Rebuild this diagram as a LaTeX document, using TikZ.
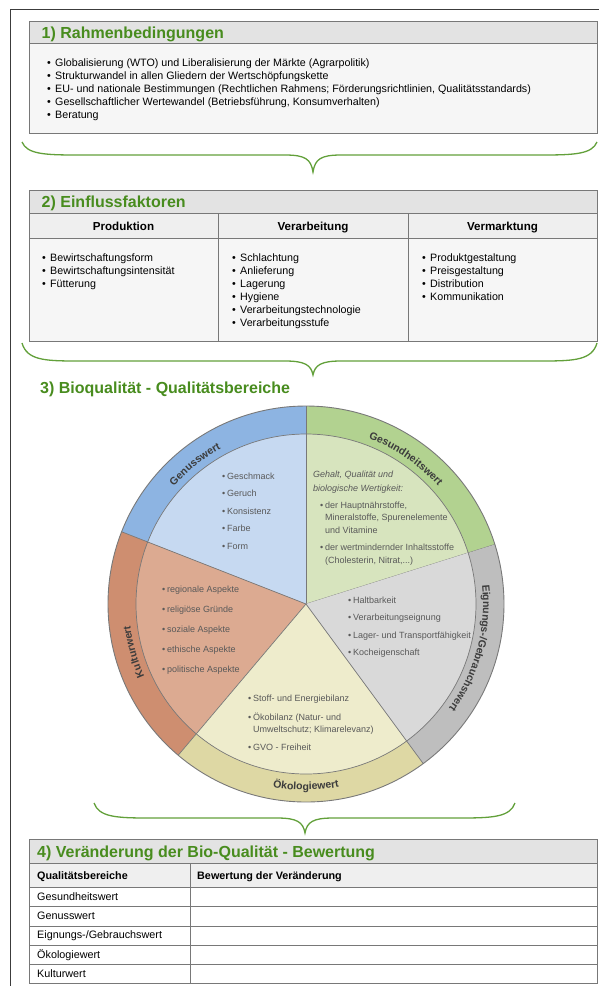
\documentclass[tikz,border=0pt]{standalone}
\usepackage{fontspec}
\setmainfont{Liberation Sans}
\usetikzlibrary{decorations.text}

\definecolor{titlegreen}{RGB}{72,140,30}
\definecolor{bracegreen}{RGB}{98,160,58}
\definecolor{framegray}{RGB}{60,60,60}
\definecolor{linegray}{RGB}{120,120,120}
\definecolor{headgray}{RGB}{227,227,227}
\definecolor{subgray}{RGB}{239,239,239}
\definecolor{bodygray}{RGB}{246,246,246}
\definecolor{piegray}{RGB}{89,89,89}
\definecolor{labelgray}{RGB}{60,60,60}
% ring and inner colours of the pie
\definecolor{genR}{RGB}{141,180,226}
\definecolor{genI}{RGB}{198,217,241}
\definecolor{gesR}{RGB}{178,210,144}
\definecolor{gesI}{RGB}{215,228,190}
\definecolor{eigR}{RGB}{190,190,190}
\definecolor{eigI}{RGB}{217,217,217}
\definecolor{oekR}{RGB}{222,216,164}
\definecolor{oekI}{RGB}{238,236,204}
\definecolor{kulR}{RGB}{206,142,112}
\definecolor{kulI}{RGB}{220,170,145}

\newcommand{\bul}{\makebox[8pt][l]{\textbullet}}
\newcommand{\pbul}{\makebox[5pt][l]{\textbullet}}
% curly brace: x1, x2, xmid, yend, yflat, ytip
\newcommand{\gbrace}[6]{%
  \draw[brace] (#1,-#4) .. controls (#1+5,-#5+1) and (#1+22,-#5) .. (#1+55,-#5)
    -- (#3-28,-#5) .. controls (#3-8,-#5) and (#3-2,-#5-4) .. (#3,-#6)
    .. controls (#3+2,-#5-4) and (#3+8,-#5) .. (#3+28,-#5)
    -- (#2-55,-#5) .. controls (#2-22,-#5) and (#2-5,-#5+1) .. (#2,-#4);}

\tikzset{
  boxline/.style={draw=linegray, line width=0.8pt},
  title/.style={anchor=base west, inner sep=0, text=titlegreen,
    font=\fontsize{16}{16}\selectfont\bfseries},
  item/.style={anchor=base west, inner sep=0, font=\fontsize{10.7}{13}\selectfont},
  colhead/.style={anchor=base, inner sep=0, font=\fontsize{11.6}{13}\selectfont\bfseries},
  pieitem/.style={anchor=base west, inner sep=0, text=piegray,
    font=\fontsize{9}{11}\selectfont},
  brace/.style={draw=bracegreen, line width=1.3pt},
  ringlabel/.style={decorate, decoration={text along path, text align=center,
    text color=labelgray, text={|\fontsize{10.5}{12}\selectfont\bfseries|#1}}}
}

\begin{document}
\begin{tikzpicture}[x=1pt, y=1pt]
  \useasboundingbox (0,0) rectangle (599,-986);
  % Frame
  \draw[framegray, line width=1.2pt] (10.5,-986) -- (10.5,-9.5) -- (599,-9.5);

  % 1) Rahmenbedingungen
  \fill[headgray] (29,-21) rectangle (597,-43);
  \fill[bodygray] (29,-43) rectangle (597,-133);
  \draw[boxline] (29,-21) rectangle (597,-133);
  \draw[boxline] (29,-43) -- (597,-43);
  \node[title] (t1) at (41.5,-38) {1) Rahmenbedingungen};
  \foreach \t [count=\i] in {Globalisierung (WTO) und Liberalisierung der Märkte (Agrarpolitik),
      Strukturwandel in allen Gliedern der Wertschöpfungskette,
      {EU- und nationale Bestimmungen (Rechtlichen Rahmens; Förderungsrichtlinien, Qualitätsstandards)},
      {Gesellschaftlicher Wertewandel (Betriebsführung, Konsumverhalten)},
      Beratung}
    \node[item] (r\i) at (47,{-66.8-13*(\i-1)}) {\bul\t};
  \gbrace{22}{597}{313}{142}{155}{172}

  % 2) Einflussfaktoren
  \fill[headgray] (29,-190) rectangle (597,-213);
  \fill[subgray] (29,-213) rectangle (597,-238);
  \fill[bodygray] (29,-238) rectangle (597,-341);
  \draw[boxline] (29,-190) rectangle (597,-341);
  \draw[boxline] (29,-213) -- (597,-213) (29,-238) -- (597,-238);
  \draw[boxline] (218,-213) -- (218,-341) (408,-213) -- (408,-341);
  \node[title] (t2) at (41.5,-207.5) {2) Einflussfaktoren};
  \node[colhead] (hp) at (123.5,-230) {Produktion};
  \node[colhead] (hv) at (313,-230) {Verarbeitung};
  \node[colhead] (hm) at (502.5,-230) {Vermarktung};
  \foreach \t [count=\i] in {Bewirtschaftungsform, Bewirtschaftungsintensität, Fütterung}
    \node[item] (p\i) at (42,{-261.3-13*(\i-1)}) {\bul\t};
  \foreach \t [count=\i] in {Schlachtung, Anlieferung, Lagerung, Hygiene,
      Verarbeitungstechnologie, Verarbeitungsstufe}
    \node[item] (v\i) at (232,{-261.3-13*(\i-1)}) {\bul\t};
  \foreach \t [count=\i] in {Produktgestaltung, Preisgestaltung, Distribution, Kommunikation}
    \node[item] (m\i) at (422,{-261.3-13*(\i-1)}) {\bul\t};
  \gbrace{22}{597}{313}{343}{361}{375}

  % 3) Bioqualitaet
  \node[title] (t3) at (40,-393) {3) Bioqualität - Qualitätsbereiche};
  \begin{scope}[shift={(306,-604)}]
    % Wedges: ring and inner part
    \foreach \a/\b/\ring/\inner in {17.5/90/gesR/gesI, 90/158.6/genR/genI,
        158.6/229.8/kulR/kulI, 229.8/306.3/oekR/oekI, -53.7/17.5/eigR/eigI} {
      \fill[\ring] (0,0) -- (\a:198) arc[start angle=\a, end angle=\b, radius=198] -- cycle;
      \fill[\inner] (0,0) -- (\a:170) arc[start angle=\a, end angle=\b, radius=170] -- cycle;
      \draw[linegray, line width=0.7pt] (0,0) -- (\a:198);
    }
    \draw[linegray, line width=0.7pt] (0,0) circle (170);
    \draw[linegray, line width=0.9pt] (0,0) circle (198);
    % Ring labels
    \path[ringlabel=Genusswert] (153.5:177) arc[start angle=153.5, end angle=103.5, radius=177];
    \path[ringlabel=Gesundheitswert] (88:177) arc[start angle=88, end angle=23, radius=177];
    \path[ringlabel=Eignungs-/Gebrauchswert] (23:177) arc[start angle=23, end angle=-53, radius=177];
    \path[ringlabel=Kulturwert] (225:177) arc[start angle=225, end angle=166, radius=177];
    \path[ringlabel=Ökologiewert] (245:186) arc[start angle=245, end angle=295, radius=186];
  \end{scope}
  % Genusswert
  \foreach \t [count=\i] in {Geschmack, Geruch, Konsistenz, Farbe, Form}
    \node[pieitem] (g\i) at (222,{-479.3-17.5*(\i-1)}) {\pbul\t};
  % Gesundheitswert
  \node[pieitem, font=\fontsize{9}{11}\selectfont\itshape] (h1) at (313,-477) {Gehalt, Qualität und};
  \node[pieitem, font=\fontsize{9}{11}\selectfont\itshape] (h2) at (313,-491) {biologische Wertigkeit:};
  \node[pieitem] (h3) at (320,-508) {\pbul der Hauptnährstoffe,};
  \node[pieitem] (h4) at (325,-520.5) {Mineralstoffe, Spurenelemente};
  \node[pieitem] (h5) at (325,-533.5) {und Vitamine};
  \node[pieitem] (h6) at (320,-550) {\pbul der wertmindernder Inhaltsstoffe};
  \node[pieitem] (h7) at (325,-563) {(Cholesterin, Nitrat,...)};
  % Eignungs-/Gebrauchswert
  \foreach \t [count=\i] in {Haltbarkeit, Verarbeitungseignung,
      Lager- und Transportfähigkeit, Kocheigenschaft}
    \node[pieitem] (e\i) at (348,{-603.2-17.5*(\i-1)}) {\pbul\t};
  % Kulturwert
  \foreach \t [count=\i] in {regionale Aspekte, religiöse Gründe, soziale Aspekte,
      ethische Aspekte, politische Aspekte}
    \node[pieitem] (k\i) at (162,{-592.2-20*(\i-1)}) {\pbul\t};
  % Oekologiewert
  \node[pieitem] (o1) at (248,-701.2) {\pbul Stoff- und Energiebilanz};
  \node[pieitem] (o2) at (248,-720.2) {\pbul Ökobilanz (Natur- und};
  \node[pieitem] (o3) at (253,-732.5) {Umweltschutz; Klimarelevanz)};
  \node[pieitem] (o4) at (248,-750.2) {\pbul GVO - Freiheit};
  \gbrace{94}{515}{305}{803}{818}{833}

  % 4) Bewertung
  \fill[headgray] (29,-839) rectangle (597,-863);
  \fill[subgray] (29,-863) rectangle (597,-887);
  \fill[white] (29,-887) rectangle (597,-983);
  \draw[boxline] (29,-839) rectangle (597,-983);
  \foreach \y in {863,887,906,926,945,964}
    \draw[boxline] (29,-\y) -- (597,-\y);
  \draw[boxline] (190,-863) -- (190,-983);
  \node[title] (t4) at (37,-857) {4) Veränderung der Bio-Qualität - Bewertung};
  \node[colhead, anchor=base west, font=\fontsize{10.8}{13}\selectfont\bfseries] (hq) at (37,-879) {Qualitätsbereiche};
  \node[colhead, anchor=base west, font=\fontsize{10.8}{13}\selectfont\bfseries] (hb) at (197,-879) {Bewertung der Veränderung};
  \foreach \t [count=\i] in {Gesundheitswert, Genusswert, Eignungs-/Gebrauchswert,
      Ökologiewert, Kulturwert}
    \node[item, font=\fontsize{10.8}{12}\selectfont] (q\i) at (37,{-900.3-19.3*(\i-1)}) {\t};
\end{tikzpicture}
\end{document}
